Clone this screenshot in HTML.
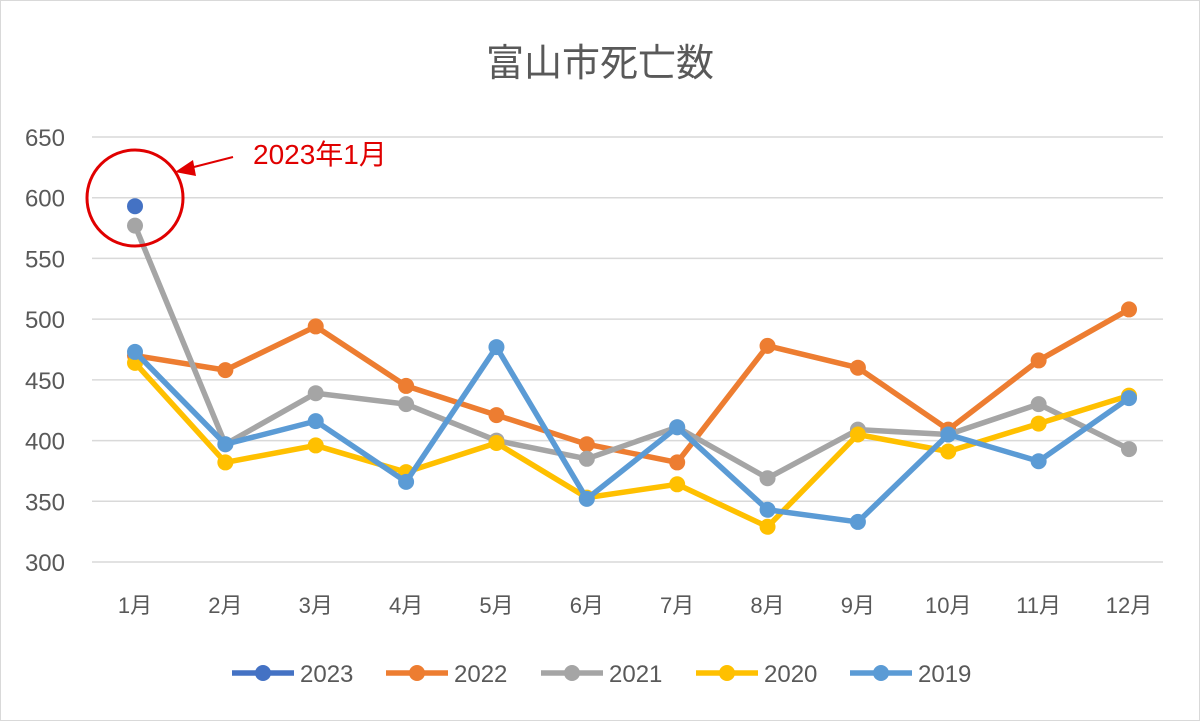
<!DOCTYPE html>
<html><head><meta charset="utf-8"><style>
body{margin:0;background:#fff}
svg text{font-family:"Liberation Sans","Noto Sans CJK JP",sans-serif}
</style></head><body>
<svg id="c" width="1200" height="721" viewBox="0 0 1200 721" xmlns="http://www.w3.org/2000/svg">
<rect x="0.5" y="0.5" width="1199" height="720" fill="#fff" stroke="#d9d9d9"/>
<text x="600" y="76" text-anchor="middle" font-size="38" fill="#595959">富山市死亡数</text>
<g id="grid"></g><g id="series"></g><g id="legend"></g>
<circle cx="135" cy="198" r="48" fill="none" stroke="#e00000" stroke-width="3"/>
<line x1="233" y1="157" x2="190" y2="168" stroke="#e00000" stroke-width="2"/>
<polygon points="175,172 193,160 196,176" fill="#e00000"/>
<text x="253" y="164" font-size="28" fill="#e00000">2023年1月</text>
</svg>
<script>
const categories=["1月","2月","3月","4月","5月","6月","7月","8月","9月","10月","11月","12月"];
const yTicks=[300,350,400,450,500,550,600,650];
const names=["2023","2022","2021","2020","2019"];
const colors=["#4472C4","#ED7D31","#A5A5A5","#FFC000","#5B9BD5"];
const s2023=[593];
const s2022=[470,458,494,445,421,397,382,478,460,409,466,508];
const s2021=[577,397,439,430,400,385,411,369,409,405,430,393];
const s2020=[464,382,396,374,398,353,364,329,405,391,414,437];
const s2019=[473,397,416,366,477,352,411,343,333,405,383,435];
const data=[s2023,s2022,s2021,s2020,s2019];
const NS="http://www.w3.org/2000/svg";
const x=i=>135+i*(1129-135)/11;
const y=v=>562-(v-300)*(562-137)/350;
function mk(t,a,p){const e=document.createElementNS(NS,t);for(const k in a)e.setAttribute(k,a[k]);p.appendChild(e);return e;}
const g=document.getElementById('grid');
yTicks.forEach(v=>{
 const l=mk('line',{x1:92,x2:1163,y1:y(v),y2:y(v),stroke:'#d9d9d9','stroke-width':1.5},g);
 
 
 const t=mk('text',{x:65,y:y(v)+9,'text-anchor':'end','font-size':24,fill:'#595959'},g);
 t.textContent=v;
 
 
});
categories.forEach((c,i)=>{
 const t=mk('text',{x:x(i),y:613,'text-anchor':'middle','font-size':22,fill:'#595959'},g);
 t.textContent=c;
 
 
});
const sg=document.getElementById('series');
for(let k=1;k<=data.length;k++){
 const si=k%data.length; // draw 2022..2019 then 2023
 const d=data[si];
 const grp=mk('g',{},sg);
 
 
 if(d.length>1){
  const p=mk('polyline',{points:d.map((v,i)=>x(i)+','+y(v)).join(' '),fill:'none',stroke:colors[si],'stroke-width':5.5,'stroke-linejoin':'round'},grp);
  
  
 }
 d.forEach((v,i)=>{
  const c=mk('circle',{cx:x(i),cy:y(v),r:8,fill:colors[si]},grp);
  
  
 });
}
const lg=document.getElementById('legend');
const lx=[232,386,541,696,850];
names.forEach((n,i)=>{
 const e=mk('g',{},lg);
 
 
 mk('line',{x1:lx[i],x2:lx[i]+62,y1:673,y2:673,stroke:colors[i],'stroke-width':5.5},e);
 mk('circle',{cx:lx[i]+31,cy:673,r:8,fill:colors[i]},e);
 const t=mk('text',{x:lx[i]+68,y:682,'font-size':24,fill:'#595959'},e);
 t.textContent=n;
});
</script>
</body></html>
